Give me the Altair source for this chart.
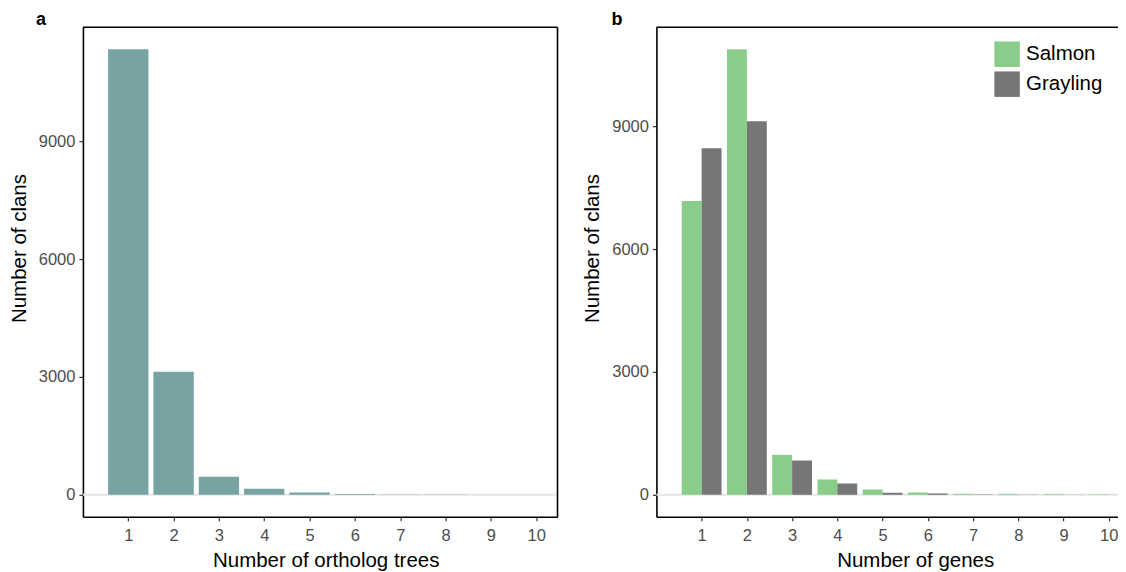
import altair as alt
import pandas as pd

# ---- data ----
trees = list(range(1, 11))
clans_by_trees = [11340, 3130, 458, 153, 59, 17, 8, 6, 4, 3]

genes = list(range(1, 11))
salmon = [7170, 10880, 976, 374, 130, 57, 24, 22, 16, 10]
grayling = [8460, 9120, 837, 276, 49, 33, 8, 5, 3, 2]
species = ["Salmon", "Grayling"]
y_ticks = [0, 3000, 6000, 9000]
panel_tags = ["a", "b"]

FONT = "Liberation Sans"
TEAL = "#77a3a3"
GREEN = "#8acd8a"
GREY = "#767676"
ZERO = "#e6e6e6"

W_A, W_B, H = 475, 474, 490

df_a = pd.DataFrame({"n": trees, "clans": clans_by_trees})
df_a["x0"] = df_a["n"] - 0.445
df_a["x1"] = df_a["n"] + 0.445

rows = []
for n, s, g in zip(genes, salmon, grayling):
    rows.append({"n": n, "species": species[0], "clans": s, "x0": n - 0.44, "x1": n})
    rows.append({"n": n, "species": species[1], "clans": g, "x0": n, "x1": n + 0.44})
df_b = pd.DataFrame(rows)

one = pd.DataFrame({"k": [0]})


def x_axis(title, tx):
    return alt.Axis(values=list(range(1, 11)), title=title, titleX=tx, grid=False,
                    labelFontSize=16.5, labelColor="#4d4d4d", labelPadding=7,
                    tickSize=4, tickColor="#333333", tickWidth=1.2,
                    domainColor="black", domainWidth=1.6,
                    titleFontSize=20.5, titleFontWeight="normal", titleColor="black",
                    titlePadding=6, labelFont=FONT, titleFont=FONT)


def y_axis(ty):
    return alt.Axis(values=y_ticks, format="d", title="Number of clans", titleY=ty, grid=False,
                    labelFontSize=16.5, labelColor="#4d4d4d", labelPadding=4,
                    tickSize=4, tickColor="#333333", tickWidth=1.2,
                    domainColor="black", domainWidth=1.6,
                    titleFontSize=20.5, titleFontWeight="normal", titleColor="black",
                    titlePadding=9, labelFont=FONT, titleFont=FONT)


def tag(letter, dx):
    return alt.Chart(one).mark_text(text=letter, font=FONT, fontSize=18, fontWeight="bold",
                                    align="left", baseline="alphabetic", color="black").encode(
        x=alt.value(dx), y=alt.value(-2.5))


def panel(df, width, xdom, ydom, xtitle, tx, letter, dx, color=None):
    ysc = alt.Scale(domain=ydom, nice=False, zero=False)
    xenc = alt.X("x0:Q", scale=alt.Scale(domain=xdom, nice=False, zero=False),
                 axis=x_axis(xtitle, tx))
    yenc = alt.Y("clans:Q", scale=ysc, axis=y_axis(221))
    zero = alt.Chart(one).mark_rule(color=ZERO, strokeWidth=2).encode(
        y=alt.Y(datum=0, type="quantitative", scale=ysc, axis=y_axis(221)))
    enc = dict(x=xenc, x2="x1:Q", y=yenc, y2=alt.Y2(datum=0))
    if color is None:
        bars = alt.Chart(df).mark_rect(color=TEAL).encode(**enc)
    else:
        bars = alt.Chart(df).mark_rect().encode(color=color, **enc)
    top = alt.Chart(one).mark_rule(color="black", strokeWidth=1.6).encode(
        x=alt.value(0), x2=alt.value(width), y=alt.value(0))
    layers = [zero, bars, top]
    if letter == "a":
        layers.append(alt.Chart(one).mark_rule(color="black", strokeWidth=1.6).encode(
            x=alt.value(width), y=alt.value(0), y2=alt.value(H)))
    layers.append(tag(letter, dx))
    return alt.layer(*layers).properties(width=width, height=H)


legend_color = alt.Color(
    "species:N", scale=alt.Scale(domain=species, range=[GREEN, GREY]),
    legend=alt.Legend(title=None, orient="none", legendX=338, legendY=14,
                      symbolType="square", symbolSize=650,
                      symbolStrokeWidth=0, symbolOpacity=1,
                      labelFontSize=20.5, labelColor="black", labelFont=FONT,
                      labelOffset=6, rowPadding=4, padding=0))

panel_a = panel(df_a, W_A, [0, 10.47], [-560, 11900], "Number of ortholog trees", 243,
                panel_tags[0], -47)
panel_b = panel(df_b, W_B, [0, 10.47], [-537, 11415], "Number of genes", 259,
                panel_tags[1], -45, color=legend_color)

chart = alt.hconcat(panel_a, panel_b, spacing=24).resolve_scale(
    y="independent", x="independent").resolve_legend(color="independent").properties(
    padding={"left": 1, "top": 2, "right": -13, "bottom": 0}, background="white"
).configure_view(stroke=None)

chart.save("out.html", embed_options={"renderer": "svg", "actions": False})
